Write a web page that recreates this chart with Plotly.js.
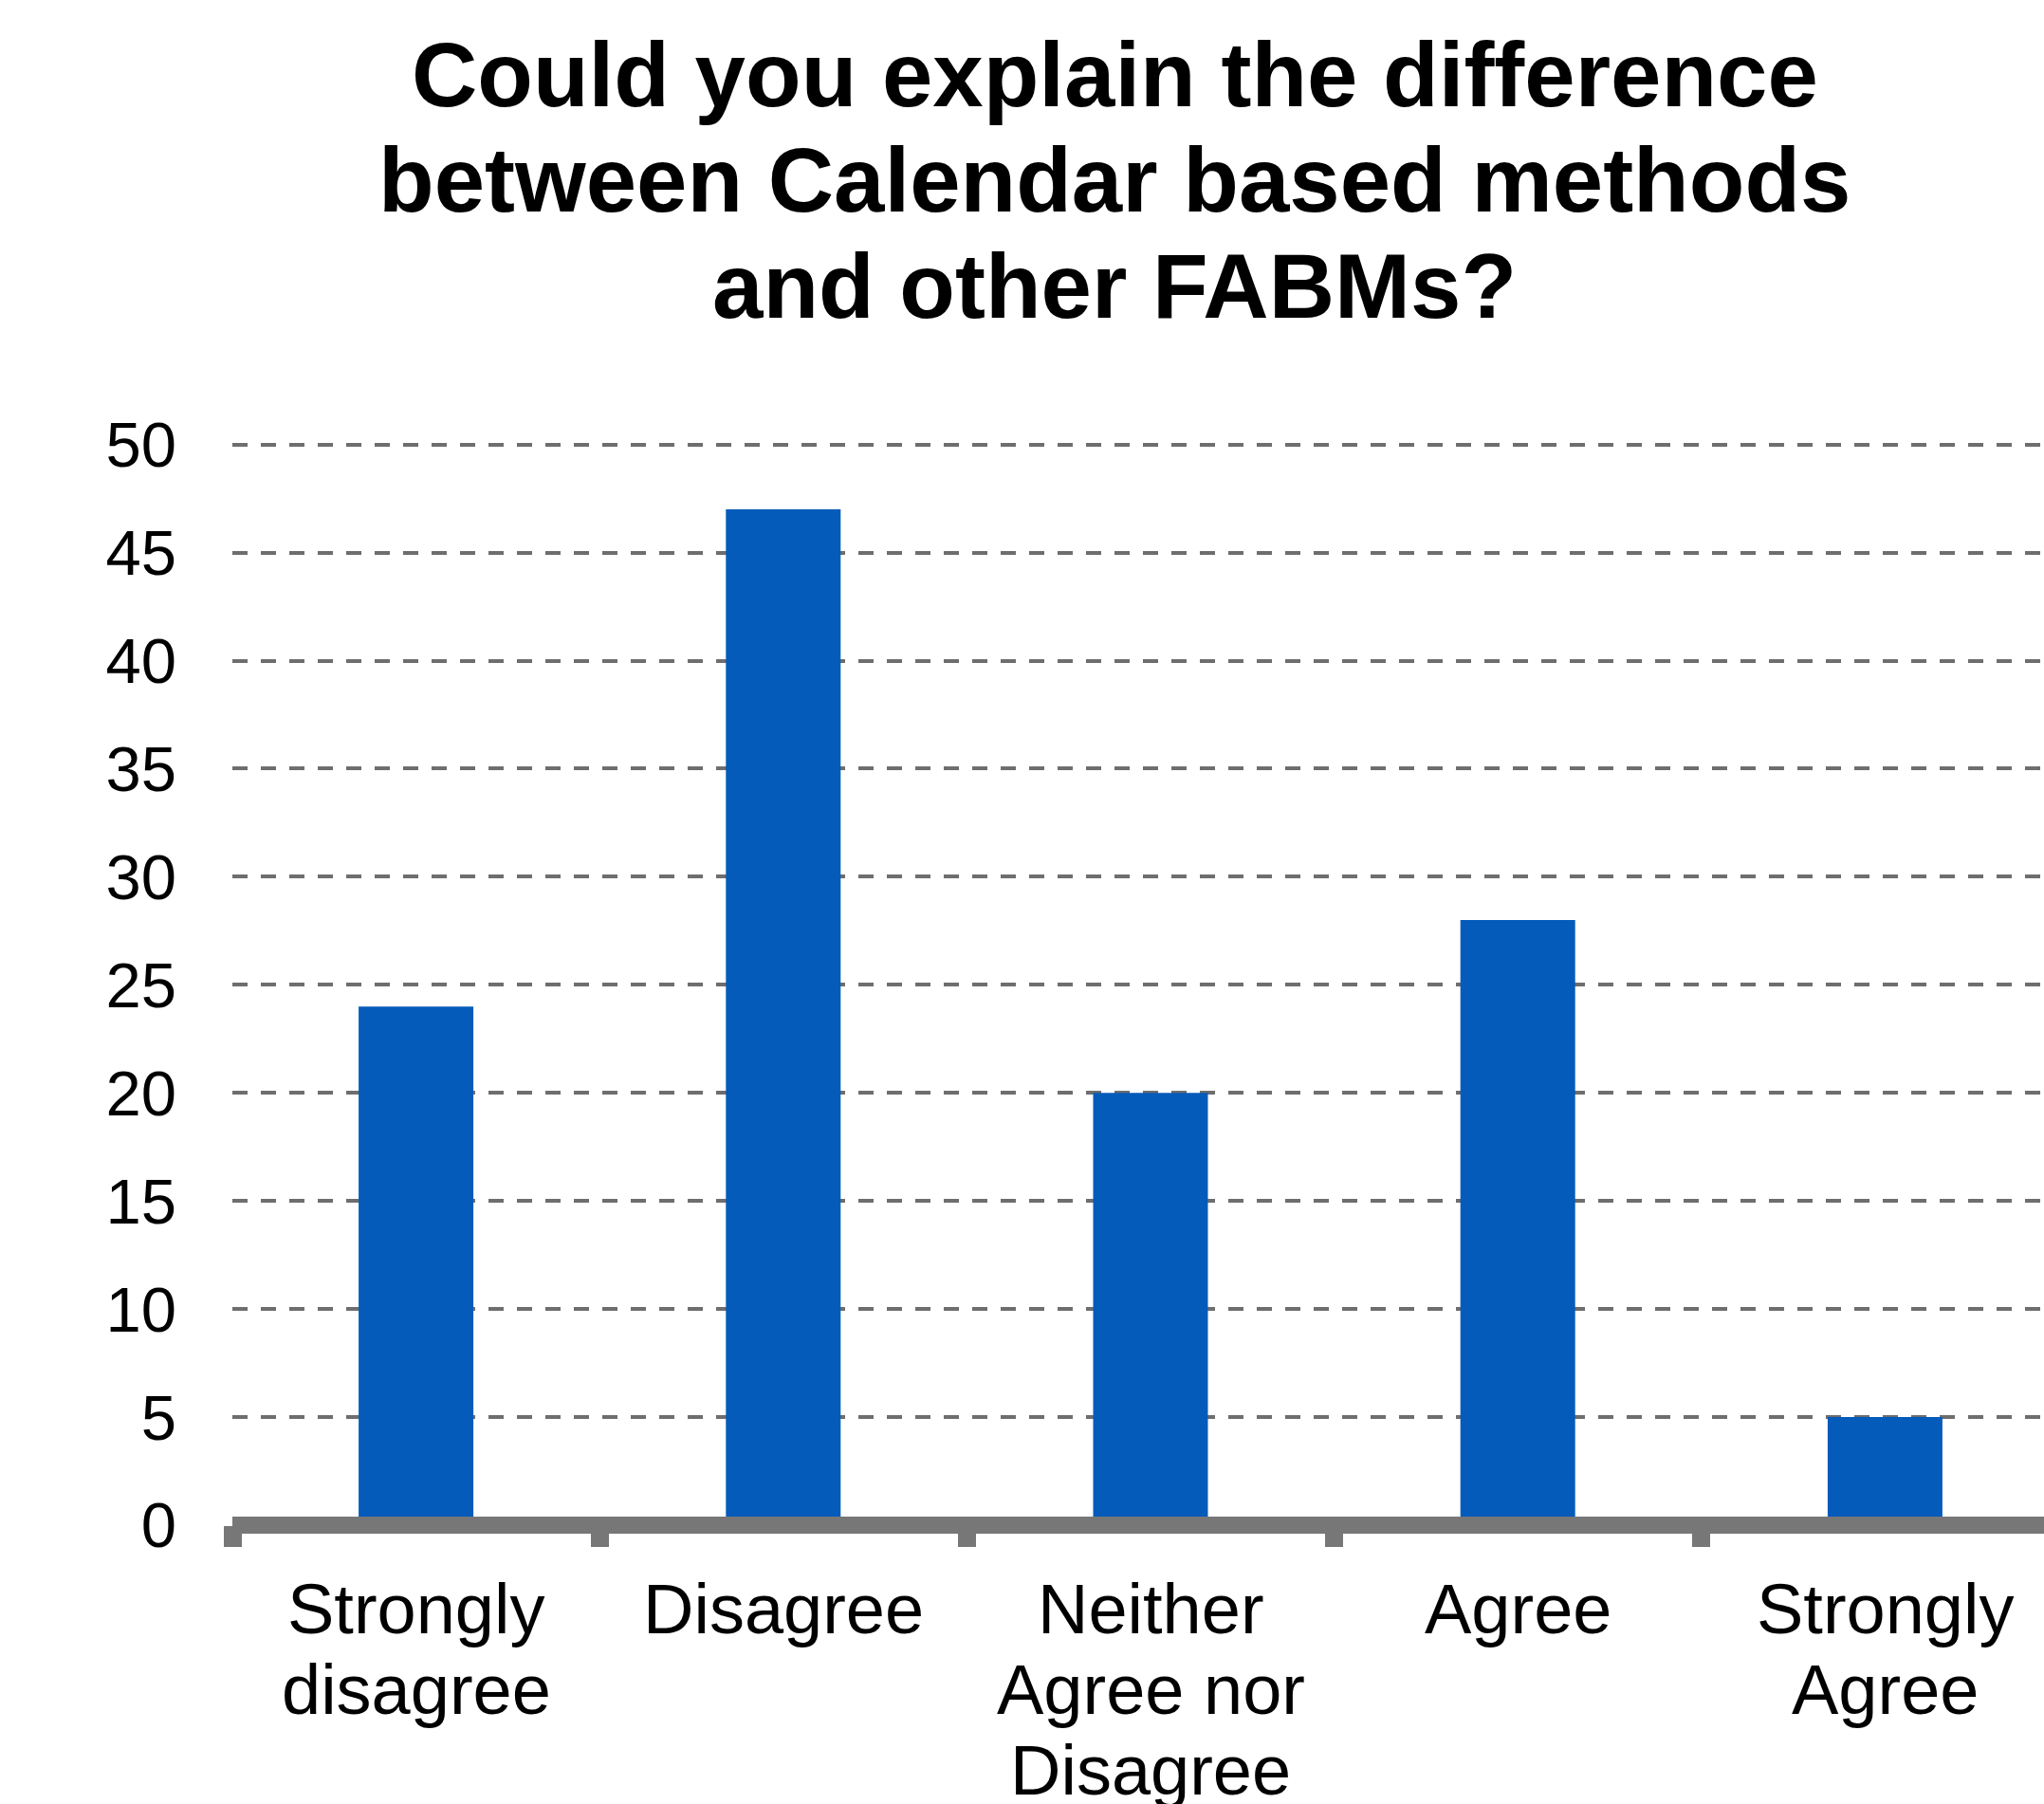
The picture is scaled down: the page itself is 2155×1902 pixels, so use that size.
<!DOCTYPE html>
<html>
<head>
<meta charset="utf-8">
<script src="https://cdn.plot.ly/plotly-3.0.1.min.js"></script>
<style>
  html, body { margin: 0; padding: 0; background: #ffffff; overflow: hidden; }
  #chart { width: 2155px; height: 1902px; }
</style>
</head>
<body>
<div id="chart"></div>
<script>
// Survey answers and respondent counts
const categories = ['Strongly disagree', 'Disagree', 'Neither Agree nor Disagree', 'Agree', 'Strongly Agree'];
const counts = [24, 47, 20, 28, 5];

// Category labels, split into the lines they are drawn on
const labelLines = [
  ['Strongly', 'disagree'],
  ['Disagree'],
  ['Neither', 'Agree nor', 'Disagree'],
  ['Agree'],
  ['Strongly', 'Agree']
];

// Chart title, one entry per line
const titleLines = [
  'Could you explain the difference',
  'between Calendar based methods',
  'and other FABMs?'
];

const yTicks = [0, 5, 10, 15, 20, 25, 30, 35, 40, 45, 50];

// Page geometry (pixels)
const W = 2155, H = 1902;
const plotLeft = 245, plotBottom = 1608;
const unitPx = 1139 / 50;          // pixels per respondent on the value axis
const yMax = 50.25;                // a little headroom so the 50 gridline is drawn
const plotTop = plotBottom - yMax * unitPx;
const plotH = plotBottom - plotTop;
const plotW = W - plotLeft;
const catW = 387.2;

// Convert a pixel position on the page into paper coordinates
const paperY = pix => (plotBottom - pix) / plotH;
const paperX = pix => (pix - plotLeft) / plotW;

const FONT = '"Liberation Sans", Arial, Helvetica, sans-serif';
const labelSize = 74;
const titleSize = 96;

const annotations = [];

// Title lines
titleLines.forEach((line, i) => {
  const baseline = 112 + 111.5 * i;
  annotations.push({
    text: '<b>' + line + '</b>',
    xref: 'paper', yref: 'paper',
    x: paperX(1175), y: paperY(baseline - 0.3465 * titleSize),
    xanchor: 'center', yanchor: 'middle',
    showarrow: false,
    font: { family: FONT, size: titleSize, color: '#000000' }
  });
});

// Category labels under each bar
labelLines.forEach((lines, i) => {
  lines.forEach((line, j) => {
    const baseline = 1722 + 85 * j;
    annotations.push({
      text: line,
      xref: 'x', yref: 'paper',
      x: categories[i], y: paperY(baseline - 0.3465 * labelSize),
      xanchor: 'center', yanchor: 'middle',
      showarrow: false,
      font: { family: FONT, size: labelSize, color: '#000000' }
    });
  });
});

const trace = {
  type: 'bar',
  x: categories,
  y: counts,
  width: 0.3125,
  marker: { color: '#045bba', line: { width: 0 } },
  hoverinfo: 'skip'
};

const layout = {
  width: W,
  height: H,
  margin: { l: plotLeft, r: 0, t: plotTop, b: H - plotBottom, pad: 0 },
  paper_bgcolor: '#ffffff',
  plot_bgcolor: '#ffffff',
  showlegend: false,
  font: { family: FONT, color: '#000000' },
  xaxis: {
    type: 'category',
    categoryorder: 'array',
    categoryarray: categories,
    range: [-0.5, -0.5 + plotW / catW],
    showticklabels: false,
    ticks: 'outside',
    tickson: 'boundaries',
    ticklen: 22,
    tickwidth: 19,
    tickcolor: '#777777',
    showgrid: false,
    showline: false,
    zeroline: false,
    fixedrange: true
  },
  yaxis: {
    range: [0, yMax],
    tickmode: 'array',
    tickvals: yTicks,
    ticktext: yTicks.map(String),
    ticks: '',
    ticklabelstandoff: 58,
    tickfont: { family: FONT, size: 67, color: '#000000' },
    showgrid: true,
    gridcolor: '#6e6e6e',
    gridwidth: 4,
    griddash: '16px,14px',
    showline: false,
    zeroline: false,
    fixedrange: true
  },
  shapes: [{
    // baseline of the value axis, centred on zero
    type: 'line',
    xref: 'paper', yref: 'paper',
    x0: 0, x1: 1, y0: 0, y1: 0,
    line: { color: '#777777', width: 18 },
    layer: 'above'
  }],
  annotations: annotations
};

Plotly.newPlot('chart', [trace], layout, { staticPlot: true, displayModeBar: false });
</script>
</body>
</html>
